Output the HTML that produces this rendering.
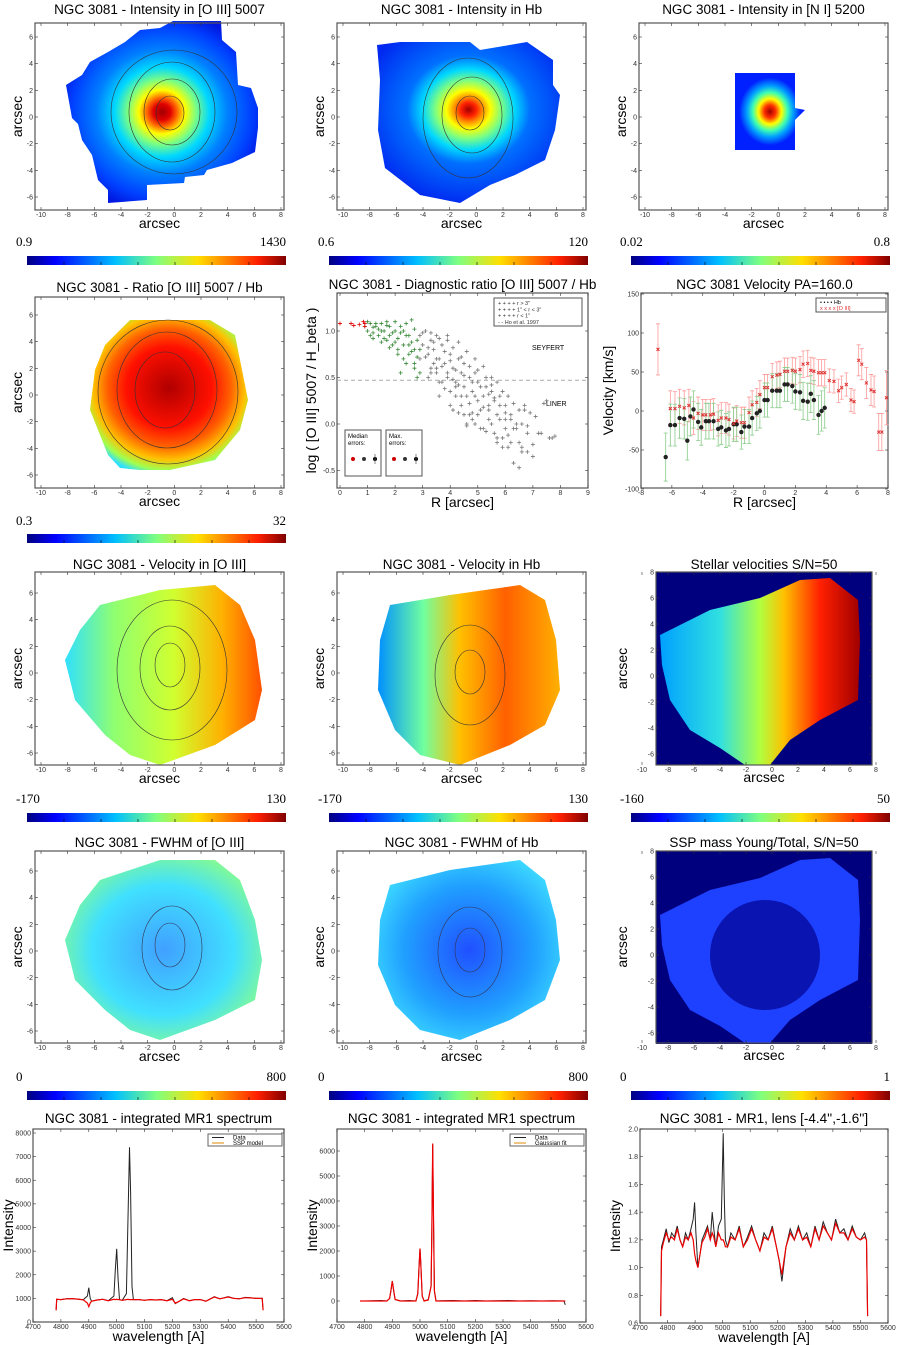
<!DOCTYPE html>
<html><head><meta charset="utf-8"><style>
html,body{margin:0;padding:0;background:#fff}
svg{display:block;font-family:"Liberation Sans","DejaVu Sans",sans-serif}
.t{font-size:13.5px;fill:#000;text-anchor:middle}
.tk{font-size:7px;fill:#333}
.al{font-size:14px;fill:#000;text-anchor:middle}
.cb{font-family:"Liberation Serif",serif;font-size:13px;fill:#000}
</style></head><body>
<svg id="page" width="900" height="1345" viewBox="0 0 900 1345" xmlns="http://www.w3.org/2000/svg">
<defs>
<linearGradient id="jet" x1="0" x2="1" y1="0" y2="0">
<stop offset="0" stop-color="#00007f"/><stop offset="0.11" stop-color="#0000ff"/><stop offset="0.34" stop-color="#00bfff"/><stop offset="0.5" stop-color="#7fff7f"/><stop offset="0.66" stop-color="#ffdf00"/><stop offset="0.89" stop-color="#ff1f00"/><stop offset="1" stop-color="#7f0000"/></linearGradient>
<radialGradient id="rInt" cx="0.5" cy="0.5" r="0.55"><stop offset="0" stop-color="#a00000"/><stop offset="0.08" stop-color="#e00000"/><stop offset="0.14" stop-color="#ff6000"/><stop offset="0.22" stop-color="#ffff00"/><stop offset="0.32" stop-color="#7fff7f"/><stop offset="0.45" stop-color="#00d8ff"/><stop offset="0.62" stop-color="#0080ff"/><stop offset="0.85" stop-color="#0040ff"/><stop offset="1" stop-color="#0018e0"/></radialGradient>
<radialGradient id="rHb" cx="0.5" cy="0.42" r="0.6"><stop offset="0" stop-color="#a00000"/><stop offset="0.07" stop-color="#ff2000"/><stop offset="0.13" stop-color="#ff9000"/><stop offset="0.2" stop-color="#ffff00"/><stop offset="0.3" stop-color="#7fff7f"/><stop offset="0.42" stop-color="#00d8ff"/><stop offset="0.56" stop-color="#0070ff"/><stop offset="1" stop-color="#0028f0"/></radialGradient>
<radialGradient id="rNI" cx="0.5" cy="0.5" r="0.55"><stop offset="0" stop-color="#a00000"/><stop offset="0.15" stop-color="#ff3000"/><stop offset="0.3" stop-color="#ffff00"/><stop offset="0.45" stop-color="#40ffb0"/><stop offset="0.6" stop-color="#00a0ff"/><stop offset="0.8" stop-color="#0020ff"/></radialGradient>
<radialGradient id="rRat" cx="0.5" cy="0.45" r="0.6"><stop offset="0" stop-color="#b00000"/><stop offset="0.45" stop-color="#ff1000"/><stop offset="0.65" stop-color="#ff6000"/><stop offset="0.8" stop-color="#ffc000"/><stop offset="0.92" stop-color="#a0ff50"/><stop offset="1" stop-color="#30e0ff"/></radialGradient>
<linearGradient id="gV1" x1="0" x2="1"><stop offset="0" stop-color="#30e0ff"/><stop offset="0.25" stop-color="#90ff70"/><stop offset="0.55" stop-color="#d0ff30"/><stop offset="0.8" stop-color="#ffb000"/><stop offset="1" stop-color="#ff5000"/></linearGradient>
<linearGradient id="gV2" x1="0" x2="1"><stop offset="0" stop-color="#0090ff"/><stop offset="0.25" stop-color="#70ffa0"/><stop offset="0.45" stop-color="#ffc000"/><stop offset="0.7" stop-color="#ff6000"/><stop offset="1" stop-color="#ffb000"/></linearGradient>
<linearGradient id="gSt" x1="0" x2="1"><stop offset="0" stop-color="#00a0ff"/><stop offset="0.3" stop-color="#30e0e0"/><stop offset="0.5" stop-color="#b0ff40"/><stop offset="0.62" stop-color="#ffc000"/><stop offset="0.8" stop-color="#ff2000"/><stop offset="1" stop-color="#a00000"/></linearGradient>
<radialGradient id="rFW" cx="0.5" cy="0.5" r="0.6"><stop offset="0" stop-color="#40a0ff"/><stop offset="0.6" stop-color="#40e0ff"/><stop offset="1" stop-color="#90ff80"/></radialGradient>
<radialGradient id="rFW2" cx="0.5" cy="0.5" r="0.6"><stop offset="0" stop-color="#2050ff"/><stop offset="0.6" stop-color="#20a0ff"/><stop offset="1" stop-color="#40e0ff"/></radialGradient>
</defs>
<g id="maps">
<path fill="url(#rInt)" d="M173,21 L221,21 L222,40 L236,52 L238,85 L251,88 L258,108 L258,128 L255,152 L232,163 L207,170 L204,175 L185,177 L184,183 L147,185 L147,200 L108,203 L108,190 L98,180 L92,155 L82,140 L78,124 L72,118 L66,85 L82,75 L90,62 L108,52 L125,42 L140,30 L160,28Z"/>
<g fill="none" stroke="#333" stroke-width="0.6"><ellipse cx="170" cy="113" rx="14" ry="17"/><ellipse cx="172" cy="112" rx="28" ry="33"/><ellipse cx="172" cy="112" rx="43" ry="50"/><ellipse cx="174" cy="112" rx="63" ry="62"/></g>
<path fill="url(#rHb)" d="M377,45 L400,42 L470,42 L480,50 L527,42 L553,60 L553,85 L560,95 L555,130 L545,160 L515,175 L490,185 L460,203 L420,195 L385,168 L378,130 L380,80Z"/>
<g fill="none" stroke="#333" stroke-width="0.6"><ellipse cx="470" cy="113" rx="14" ry="17"/><ellipse cx="472" cy="115" rx="30" ry="38"/><ellipse cx="468" cy="118" rx="45" ry="60"/></g>
<path fill="url(#rNI)" d="M735,73 L795,73 L795,108 L805,110 L795,120 L795,150 L735,150Z"/>
<path fill="url(#rRat)" d="M130,320 L210,320 L235,335 L240,360 L248,400 L240,430 L215,460 L170,470 L140,470 L120,468 L108,455 L90,410 L95,370 L105,345Z"/>
<g fill="none" stroke="#333" stroke-width="0.6"><ellipse cx="165" cy="390" rx="30" ry="38"/><ellipse cx="167" cy="390" rx="50" ry="58"/><ellipse cx="168" cy="392" rx="70" ry="72"/></g>
<path fill="url(#gV1)" d="M100,605 L160,590 L215,585 L240,605 L255,640 L262,690 L255,720 L215,745 L160,765 L130,755 L105,735 L75,700 L65,660 L80,630Z"/>
<g fill="none" stroke="#333" stroke-width="0.6"><ellipse cx="170" cy="665" rx="15" ry="22"/><ellipse cx="170" cy="668" rx="30" ry="42"/><ellipse cx="172" cy="670" rx="55" ry="70"/></g>
<path fill="url(#gV2)" d="M390,605 L450,595 L520,585 L545,600 L556,640 L560,690 L545,725 L510,745 L460,765 L420,755 L395,730 L378,690 L380,640Z"/>
<g fill="none" stroke="#333" stroke-width="0.6"><ellipse cx="470" cy="672" rx="15" ry="22"/><ellipse cx="470" cy="675" rx="35" ry="50"/></g>
<rect x="656" y="572" width="216" height="193" fill="#00007f"/>
<path fill="url(#gSt)" d="M710,610 L760,598 L800,580 L830,578 L858,600 L860,640 L858,700 L820,720 L790,740 L770,765 L745,765 L720,748 L690,730 L670,700 L662,665 L660,635Z"/>
<path fill="url(#rFW)" d="M100,880 L160,860 L215,860 L240,880 L255,920 L262,960 L255,1000 L215,1020 L160,1040 L130,1030 L105,1010 L75,980 L65,940 L80,905Z"/>
<g fill="none" stroke="#335" stroke-width="0.6"><ellipse cx="170" cy="945" rx="15" ry="22"/><ellipse cx="172" cy="948" rx="30" ry="42"/></g>
<path fill="url(#rFW2)" d="M390,885 L450,870 L520,860 L545,880 L556,920 L560,960 L545,1000 L510,1020 L460,1040 L420,1030 L395,1005 L378,965 L380,920Z"/>
<g fill="none" stroke="#335" stroke-width="0.6"><ellipse cx="470" cy="950" rx="15" ry="22"/><ellipse cx="470" cy="952" rx="32" ry="45"/></g>
<rect x="656" y="851" width="216" height="193" fill="#00007f"/>
<path fill="#1e40ff" d="M710,890 L760,878 L800,860 L830,858 L858,880 L860,920 L858,980 L820,1000 L790,1020 L770,1043 L745,1043 L720,1026 L690,1010 L670,980 L662,945 L660,915Z"/>
<ellipse cx="765" cy="955" rx="55" ry="55" fill="#0a14b0"/>
</g>
<g id="frames"></g>
<g id="diag"></g>
<g id="vel"></g>
<g id="spec1"></g>
<g id="spec2"></g>
<g id="spec3"></g>
</svg>
<script>
// ---- diagnostic ratio data ----
const diagGreyR=[2.9,3.0,3.1,3.2,3.3,3.3,3.4,3.5,3.5,3.6,3.7,3.7,3.8,3.9,3.9,4.0,4.0,4.1,4.2,4.2,4.3,4.4,4.4,4.5,4.5,4.6,4.7,4.7,4.8,4.9,4.9,5.0,5.0,5.1,5.2,5.2,5.3,5.4,5.4,5.5,5.6,5.6,5.7,5.8,5.9,6.0,6.0,6.1,6.2,6.3,6.4,6.5,6.6,6.7,6.8,7.0,7.2,7.4,7.6,3.2,3.6,4.1,4.6,5.1,5.5,6.2,3.4,4.3,4.8,5.7,
2.9,3.0,3.1,3.2,3.3,3.4,3.5,3.6,3.7,3.8,3.9,4.0,4.1,4.2,4.3,4.4,4.5,4.6,4.7,4.8,4.9,5.0,5.1,5.2,5.3,5.4,5.5,5.6,5.7,5.8,5.9,6.0,6.1,6.2,6.3,6.4,6.5,6.6,6.7,6.8,6.9,7.0,7.1,7.3,7.5,7.7,7.8,3.5,3.9,4.2,4.4,4.7,4.8,5.0,5.2,5.3,5.5,5.7,5.9,6.1,6.3,6.5,4.0,4.3,4.6,3.8,3.3,3.6,4.1,4.5,4.9,5.4,5.8,6.0,6.6,6.8];
const diagGreyY=[0.95,0.85,1.0,0.75,0.9,0.6,0.8,0.95,0.55,0.7,0.85,0.45,0.65,0.9,0.5,0.35,0.75,0.6,0.45,0.3,0.7,0.55,0.2,0.4,0.65,0.3,0.5,0.1,0.35,0.55,0.0,0.25,0.45,0.15,0.3,-0.05,0.4,0.2,0.05,0.5,0.25,-0.1,0.1,0.3,-0.15,0.05,0.2,-0.25,0.1,-0.05,0.0,-0.2,-0.3,0.15,-0.1,-0.35,-0.1,0.22,-0.15,0.5,0.3,0.15,0.0,-0.05,0.35,-0.2,0.65,0.42,0.12,-0.2,
0.7,0.98,0.72,0.82,0.98,0.88,0.7,0.92,0.62,0.78,0.95,0.68,0.82,0.58,0.88,0.72,0.52,0.78,0.62,0.45,0.7,0.58,0.4,0.62,0.5,0.32,0.42,0.28,0.45,0.2,0.35,0.12,0.3,0.05,0.22,-0.05,0.15,0.0,0.2,-0.02,0.12,-0.22,0.08,-0.1,0.25,-0.15,-0.13,0.6,0.55,0.4,0.3,0.22,0.05,0.1,0.18,-0.08,0.0,-0.15,-0.25,-0.12,-0.42,-0.47,0.2,0.12,-0.02,0.38,0.55,0.45,0.48,0.1,0.3,0.15,0.05,-0.05,-0.25,-0.3];
const diagGreenR=[0.9,1.0,1.1,1.2,1.3,1.4,1.5,1.6,1.7,1.8,1.9,2.0,2.1,2.2,2.3,2.4,2.5,2.6,2.7,2.8,1.2,1.5,1.8,2.1,2.4,2.7,2.2,2.5,2.8,1.7,
1.0,1.1,1.3,1.4,1.6,1.7,1.9,2.0,2.1,2.3,2.4,2.5,2.6,2.7,2.8,2.9,2.3,2.6,1.5,1.8,2.0,2.2,2.9,2.7,1.2];
const diagGreenY=[1.05,1.0,1.08,0.98,1.05,0.95,1.08,1.0,0.9,1.05,0.85,1.0,0.8,1.05,0.7,0.95,0.85,1.12,0.6,0.9,0.92,0.88,0.95,0.75,0.65,0.8,0.55,0.75,0.5,1.1,
1.1,0.95,1.08,1.02,0.92,1.06,0.98,1.1,0.92,1.0,1.08,0.95,0.88,1.02,0.72,0.55,0.85,0.78,1.0,0.82,0.88,0.98,0.8,0.65,1.04];
const diagRedR=[0.0,0.4,0.5,0.7,0.85,0.9,0.9];
const diagRedY=[1.08,1.08,1.06,1.07,1.1,1.05,1.08];
const diagXTicks=[0,1,2,3,4,5,6,7,8,9];
const diagYTicks=[-0.5,0.0,0.5,1.0];
// ---- velocity data ----
const velHbR=[-6.4,-6.1,-5.8,-5.5,-5.2,-5.0,-4.8,-4.6,-4.3,-4.1,-3.8,-3.6,-3.3,-3.0,-2.8,-2.5,-2.3,-2.0,-1.8,-1.5,-1.3,-1.0,-0.8,-0.5,-0.3,0.0,0.2,0.5,0.8,1.0,1.3,1.5,1.8,2.0,2.3,2.5,2.8,3.0,3.2,3.5,3.7,3.9];
const velHbV=[-59,-18,-18,-9,-10,-38,-7,2,-14,-21,-13,-13,-13,-23,-21,-25,-23,-17,-17,-27,-20,-20,-9,-3,0,14,14,26,26,26,34,34,32,25,24,13,12,22,14,-5,0,4];
const velHbErr=[31,27,27,26,26,25,25,24,24,23,23,23,23,22,22,22,22,22,22,22,22,22,22,22,22,22,22,22,22,22,22,22,22,23,23,24,24,24,25,25,26,26];
const velOR=[-6.9,-6.1,-5.8,-5.5,-5.2,-4.9,-4.6,-4.3,-4.0,-3.8,-3.5,-3.3,-3.0,-2.8,-2.5,-2.3,-2.0,-1.8,-1.5,-1.3,-1.0,-0.8,-0.5,-0.3,0.0,0.2,0.5,0.8,1.0,1.3,1.5,1.8,2.0,2.3,2.5,2.8,3.0,3.2,3.5,3.7,3.9,4.2,4.5,4.8,5.0,5.3,5.6,5.8,6.1,6.3,6.6,6.9,7.1,7.4,7.6,7.9];
const velOV=[79,3,3,6,4,7,-9,-3,-5,-5,-5,-4,-12,-9,-9,-11,-16,-13,-15,-15,-2,8,11,21,30,30,44,46,47,51,51,52,51,53,60,61,52,51,49,49,49,39,38,26,30,34,14,12,65,60,36,27,25,-27,-27,17];
const velOErr=[33,23,22,22,22,21,21,21,20,20,20,20,20,20,20,20,20,20,20,20,20,18,18,18,17,17,17,17,17,17,17,17,17,17,17,17,17,17,17,17,17,15,15,15,15,15,15,15,20,20,20,20,20,24,24,35];
const velXTicks=[-8,-6,-4,-2,0,2,4,6,8];
const velYTicks=[-100,-50,0,50,100,150];
// ---- spectrum 1 (integrated, SSP model) ----
const spec1Wl=[4783,4785,4800,4820,4840,4860,4880,4895,4900,4905,4910,4930,4950,4970,4990,4995,5000,5005,5010,5020,5035,5040,5046,5050,5055,5060,5080,5100,5120,5140,5160,5180,5200,5210,5220,5240,5260,5280,5300,5320,5350,5370,5400,5420,5440,5460,5480,5500,5522,5525];
const spec1Data=[500,960,950,980,990,970,940,1100,1450,1000,880,930,960,900,1100,2200,3100,1800,950,920,1200,4000,7400,5500,1500,950,950,920,950,930,950,900,1030,780,850,1000,900,950,950,880,1070,980,1070,1000,980,1040,1030,1000,1000,500];
const spec1Model=[500,960,950,980,990,970,940,800,650,800,880,930,960,900,960,950,960,950,950,920,950,960,950,950,950,950,950,920,950,930,950,900,960,800,850,980,900,950,950,880,1060,980,1060,1000,980,1030,1020,1000,1000,500];
const spec1YTicks=[0,1000,2000,3000,4000,5000,6000,7000,8000];
// ---- spectrum 2 (integrated, gaussian fit) ----
const spec2Wl=[4783,4800,4830,4860,4880,4890,4895,4900,4905,4910,4930,4960,4985,4992,4997,5000,5003,5008,5015,5030,5040,5043,5046,5049,5052,5058,5080,5120,5160,5200,5240,5280,5320,5360,5400,5440,5480,5520,5525];
const spec2Data=[0,0,10,20,0,100,400,780,400,60,0,20,0,300,1500,2100,1500,200,0,60,600,3000,6250,3000,400,0,10,20,0,20,0,10,20,0,10,0,10,0,-150];
const spec2Fit=[0,0,0,0,0,100,420,800,420,60,0,0,0,300,1500,2100,1500,200,0,40,600,3000,6300,3000,400,0,0,0,0,0,0,0,0,0,0,0,0,0,0];
const spec2YTicks=[0,1000,2000,3000,4000,5000,6000];
// ---- spectrum 3 (lens) ----
const spec3Wl=[4775,4778,4785,4795,4805,4815,4825,4835,4845,4855,4865,4875,4885,4893,4898,4903,4910,4918,4925,4935,4945,4955,4962,4968,4975,4985,4995,5002,5006,5010,5018,5030,5045,5060,5075,5090,5105,5120,5135,5150,5165,5180,5195,5205,5215,5230,5245,5260,5275,5290,5305,5320,5335,5350,5365,5380,5395,5410,5425,5440,5455,5470,5485,5500,5515,5522,5526];
const spec3Data=[0.65,1.15,1.2,1.28,1.18,1.25,1.22,1.3,1.2,1.15,1.25,1.2,1.28,1.35,1.47,1.25,1.0,1.1,1.2,1.25,1.3,1.2,1.4,1.28,1.15,1.3,1.35,1.97,1.5,1.2,1.15,1.25,1.2,1.3,1.15,1.22,1.3,1.2,1.12,1.25,1.2,1.3,1.15,1.05,0.9,1.15,1.28,1.2,1.3,1.2,1.25,1.15,1.3,1.2,1.33,1.25,1.2,1.35,1.25,1.28,1.2,1.3,1.22,1.2,1.25,1.2,0.65];
const spec3Model=[0.65,1.12,1.18,1.25,1.2,1.22,1.2,1.28,1.2,1.15,1.22,1.2,1.25,1.2,1.1,1.05,1.0,1.1,1.18,1.22,1.28,1.2,1.25,1.22,1.15,1.25,1.2,1.2,1.18,1.15,1.15,1.22,1.2,1.28,1.15,1.2,1.28,1.2,1.12,1.22,1.2,1.28,1.15,1.05,0.95,1.15,1.25,1.2,1.28,1.2,1.22,1.15,1.28,1.2,1.3,1.25,1.2,1.32,1.25,1.25,1.2,1.28,1.22,1.2,1.22,1.2,0.65];
const spec3YTicks=[0.6,0.8,1.0,1.2,1.4,1.6,1.8,2.0];
const specXTicks=[4700,4800,4900,5000,5100,5200,5300,5400,5500,5600];
const mapXTicks=[-10,-8,-6,-4,-2,0,2,4,6,8];
const mapYTicks=[-6,-4,-2,0,2,4,6];
const stXTicks=[-10,-8,-6,-4,-2,0,2,4,6,8];
const stYTicks=[-6,-4,-2,0,2,4,6,8];

const NS='http://www.w3.org/2000/svg';
function mk(parent,tag,attrs,txt){const e=document.createElementNS(NS,tag);for(const k in attrs)e.setAttribute(k,attrs[k]);if(txt!==undefined)e.textContent=txt;parent.appendChild(e);return e;}
function scale(d0,d1,p0,p1){return v=>p0+(v-d0)*(p1-p0)/(d1-d0);}
const frames=document.getElementById('frames');

function frame(g,x0,y0,x1,y1,xs,ys,xt,yt,fmtY,title,tY,xl,yl,xlY,ylX){
  const r=mk(g,'rect',{x:x0,y:y0,width:x1-x0,height:y1-y0,fill:'none',stroke:'#555','stroke-width':1.2});
  
  
  xt.forEach(v=>{const px=xs(v);mk(g,'line',{x1:px,x2:px,y1:y1,y2:y1-3,stroke:'#333','stroke-width':0.6});mk(g,'line',{x1:px,x2:px,y1:y0,y2:y0+3,stroke:'#333','stroke-width':0.6});
    const t=mk(g,'text',{x:px,y:y1+7,class:'tk','text-anchor':'middle'},String(v));});
  yt.forEach(v=>{const py=ys(v);mk(g,'line',{x1:x0,x2:x0+3,y1:py,y2:py,stroke:'#333','stroke-width':0.6});mk(g,'line',{x1:x1,x2:x1-3,y1:py,y2:py,stroke:'#333','stroke-width':0.6});
    const t=mk(g,'text',{x:x0-2,y:py+2.5,class:'tk','text-anchor':'end'},fmtY?fmtY(v):String(v));});
  const tt=mk(g,'text',{x:(x0+x1)/2,y:tY,class:'t'},title);
  const a=mk(g,'text',{x:(x0+x1)/2,y:xlY,class:'al'},xl);
  const b=mk(g,'text',{x:ylX,y:(y0+y1)/2,class:'al',transform:`rotate(-90 ${ylX} ${(y0+y1)/2})`},yl);
}
function cbar(x,y,lo,hi,ly){
  const r=mk(frames,'rect',{x:x,y:y,width:259,height:9,fill:'url(#jet)'});
  
  
  for(let i=1;i<7;i++)mk(frames,'line',{x1:x+i*37,x2:x+i*37,y1:y+9,y2:y+6,stroke:'#000','stroke-width':0.6});
  const a=mk(frames,'text',{x:x-11,y:ly,class:'cb'},lo);
  const b=mk(frames,'text',{x:x+259,y:ly,class:'cb','text-anchor':'end'},hi);
}
const mapRows=[[23,210,117,'Intensity in [O III] 5007','Intensity in Hb','Intensity in [N I] 5200',7],
[297,488,395,'Ratio [O III] 5007 / Hb',null,null,285],
[572,765,673,'Velocity in [O III]','Velocity in Hb',null,562],
[851,1043,951,'FWHM of [O III]','FWHM of Hb',null,840]];
mapRows.forEach((r,ri)=>{[0,1,2].forEach(c=>{const t=r[3+c];if(!t)return;const off=c*302;
  frame(frames,35+off,r[0],284+off,r[1],scale(-10,8,41+off,281+off),scale(0,6,r[2],r[2]-80),mapXTicks,mapYTicks,null,'NGC 3081 - '+t,r[6]+7,'arcsec','arcsec',r[1]+18,22+off);});});
[[572,765,676,'Stellar velocities S/N=50',569],[851,1043,955,'SSP mass Young/Total, S/N=50',847]].forEach(r=>{
  frame(frames,656,r[0],872,r[1],scale(-8,8,668,876),scale(0,6,r[2],r[2]-78),stXTicks,stYTicks,null,r[3],r[4],'arcsec','arcsec',r[1]+17,627);});
cbar(27,256,'0.9','1430',246);cbar(329,256,'0.6','120',246);cbar(631,256,'0.02','0.8',246);
cbar(27,534,'0.3','32',525);
cbar(27,813,'-170','130',803);cbar(329,813,'-170','130',803);cbar(631,813,'-160','50',803);
cbar(27,1091,'0','800',1081);cbar(329,1091,'0','800',1081);cbar(631,1091,'0','1',1081);

(function(){const g=document.getElementById('diag');const xs=scale(0,9,340,588),ys=scale(0,1,424,331);
 frame(g,337,293,588,488,xs,ys,diagXTicks,diagYTicks,v=>v.toFixed(1),'NGC 3081 - Diagnostic ratio [O III] 5007 / Hb',289,'R [arcsec]','log ( [O III] 5007 / H_beta )',507,316);
 const hl=mk(g,'line',{x1:337,x2:588,y1:ys(0.47),y2:ys(0.47),stroke:'#aaa','stroke-dasharray':'4,3','stroke-width':1});
 function cross(x,y,c,n){const p=mk(g,'path',{d:`M${x-2},${y}h4M${x},${y-2}v4`,stroke:c,'stroke-width':0.8});}
 diagGreyR.forEach((r,i)=>cross(xs(r),ys(diagGreyY[i]),'#777','point-r-gt-3'));
 diagGreenR.forEach((r,i)=>cross(xs(r),ys(diagGreenY[i]),'#3a8a3a','point-1-3'));
 diagRedR.forEach((r,i)=>cross(xs(r),ys(diagRedY[i]),'#d00','point-r-lt-1'));
 mk(g,'text',{x:532,y:350,'font-size':7},'SEYFERT');mk(g,'text',{x:546,y:406,'font-size':7},'LINER');
 const lg=mk(g,'rect',{x:494,y:298,width:88,height:28,fill:'#fff',stroke:'#555'});
 [['+ + + +  r > 3"','#777'],['+ + + +  1" < r < 3"','#3a8a3a'],['+ + + +  r < 1"','#f88'],['- -   Ho et al. 1997','#29c']].forEach((l,i)=>{const t=mk(g,'text',{x:498,y:305+i*6.3,'font-size':5.5,fill:'#333'},l[0]);});
 [[345,'Median','errors:'],[386,'Max.','errors:']].forEach(b=>{const r=mk(g,'rect',{x:b[0],y:430,width:36,height:46,fill:'#fff',stroke:'#555'});
  mk(g,'text',{x:b[0]+3,y:438,'font-size':6},b[1]);mk(g,'text',{x:b[0]+3,y:445,'font-size':6},b[2]);
  ['#c00','#333','#000'].forEach((c,i)=>{mk(g,'circle',{cx:b[0]+8+i*11,cy:459,r:2,fill:c});});
  mk(g,'line',{x1:b[0]+30,x2:b[0]+30,y1:454,y2:464,stroke:'#555','stroke-width':0.7});});
})();

(function(){const g=document.getElementById('vel');const xs=scale(-8,8,641,888),ys=scale(0,100,411,333);
 frame(g,641,293,888,488,xs,ys,velXTicks,velYTicks,null,'NGC 3081  Velocity PA=160.0',289,'R [arcsec]','Velocity [km/s]',507,613);
 velOR.forEach((r,i)=>{const x=xs(r),y=ys(velOV[i]),e=velOErr[i]*0.775;const l=mk(g,'path',{d:`M${x},${y-e}V${y+e}M${x-2},${y-e}h4M${x-2},${y+e}h4`,stroke:'#f99','stroke-width':0.8,fill:'none'});});
 velHbR.forEach((r,i)=>{const x=xs(r),y=ys(velHbV[i]),e=velHbErr[i]*0.775;const l=mk(g,'path',{d:`M${x},${y-e}V${y+e}M${x-2},${y-e}h4M${x-2},${y+e}h4`,stroke:'#8c8','stroke-width':0.8,fill:'none'});});
 velHbR.forEach((r,i)=>{const c=mk(g,'circle',{cx:xs(r),cy:ys(velHbV[i]),r:2.2,fill:'#222'});});
 velOR.forEach((r,i)=>{const x=xs(r),y=ys(velOV[i]);const p=mk(g,'path',{d:`M${x-1.5},${y-1.5}l3,3M${x-1.5},${y+1.5}l3,-3`,stroke:'#d33','stroke-width':1});});
 const lg=mk(g,'rect',{x:816,y:298,width:70,height:14,fill:'#fff',stroke:'#555'});
 const a=mk(g,'text',{x:820,y:304,'font-size':5.5},'• • • •  Hb');
 const b=mk(g,'text',{x:820,y:310,'font-size':5.5,fill:'#d33'},'x x x x  [O III]');
})();

function spectrum(id,x0,x1,y0,y1,ys,yt,fmt,wl,d1,d2,title,legend,c2){
 const g=document.getElementById(id);const xs=scale(4700,5600,x0,x1);
 frame(g,x0,y0,x1,y1,xs,ys,specXTicks,yt,fmt,title,y0-6,'wavelength [A]','Intensity',y1+19,x0-20);
 const mkp=(arr,c,w,n)=>{const p=mk(g,'path',{d:arr.map((v,i)=>(i?'L':'M')+xs(wl[i]).toFixed(1)+','+ys(v).toFixed(1)).join(''),fill:'none',stroke:c,'stroke-width':w});};
 mkp(d1,'#222',1,'data-line');mkp(d2,c2,1.2,'model-line');
 if(legend){const r=mk(g,'rect',{x:x1-76,y:y0+5,width:74,height:12,fill:'#fff',stroke:'#666'});
  mk(g,'line',{x1:x1-72,x2:x1-60,y1:y0+8.5,y2:y0+8.5,stroke:'#222'});mk(g,'line',{x1:x1-72,x2:x1-60,y1:y0+14,y2:y0+14,stroke:'#d80'});
  const a=mk(g,'text',{x:x1-51,y:y0+10.5,'font-size':6},'Data');
  const b=mk(g,'text',{x:x1-51,y:y0+16,'font-size':6},legend);}
}
spectrum('spec1',33,284,1129,1322,scale(0,8000,1322,1133),spec1YTicks,null,spec1Wl,spec1Data,spec1Model,'NGC 3081 - integrated MR1 spectrum','SSP model','#e00');
spectrum('spec2',337,586,1129,1322,scale(0,6000,1301,1151),spec2YTicks,null,spec2Wl,spec2Data,spec2Fit,'NGC 3081 - integrated MR1 spectrum','Gaussian fit','#e00');
spectrum('spec3',640,888,1129,1323,scale(0.6,2.0,1323,1129),spec3YTicks,v=>v.toFixed(1),spec3Wl,spec3Data,spec3Model,"NGC 3081  - MR1, lens [-4.4'',-1.6'']",null,'#e00');
</script>
</body></html>
